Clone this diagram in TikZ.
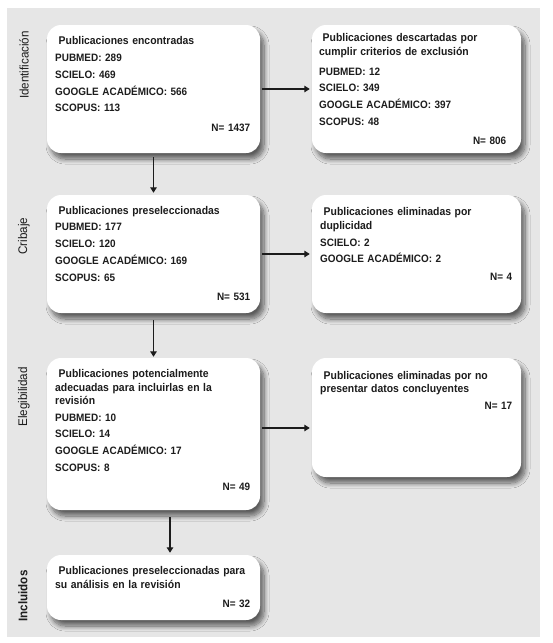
\documentclass[tikz,border=0pt]{standalone}
\usepackage{fontspec}
\newfontfamily\cf{Liberation Sans}[FakeStretch=0.93]
\usetikzlibrary{arrows.meta,shadows.blur}
\definecolor{bgc}{HTML}{E6E6E6}
\definecolor{txtc}{HTML}{1C1C1C}
\newcommand{\dfont}{\cf\bfseries\fontsize{10.7}{16.7}\selectfont}
\newcommand{\tfont}{\cf\bfseries\fontsize{11.2}{13.5}\selectfont}
\newcommand{\fl}{\rule{0pt}{11pt}\hspace*{3.5pt}}
\begin{document}
\begin{tikzpicture}[x=1pt,y=-1pt,
  box/.style={fill=white, rounded corners=14pt, inner sep=0pt,
    blur shadow={shadow xshift=4pt, shadow yshift=-6pt, shadow blur radius=5pt, shadow blur steps=10, shadow opacity=60}},
  txt/.style={anchor=north west, inner sep=0pt, text width=#1, align=left, font=\dfont, text=txtc,
    execute at begin node=\setlength{\parindent}{0pt}},
  lab/.style={rotate=90, inner sep=0pt, text=txtc, font=\cf\fontsize{12.5}{14}\selectfont},
  arr/.style={line width=1.3pt, draw=txtc, -{Triangle[length=5.5pt,width=6.5pt]}}
]
\useasboundingbox (0,0) rectangle (552,643);
\fill[bgc] (7,8) rectangle (540,637);

% boxes
\node[box, minimum width=213pt, minimum height=128pt] (b1) at (153.5,89) {};
\node[box, minimum width=209pt, minimum height=128pt] (b2) at (416.5,89) {};
\node[box, minimum width=213pt, minimum height=118pt] (b3) at (153.5,254) {};
\node[box, minimum width=209pt, minimum height=118pt] (b4) at (416.5,254) {};
\node[box, minimum width=213pt, minimum height=152pt] (b5) at (153.5,434) {};
\node[box, minimum width=209pt, minimum height=119pt] (b6) at (416.5,417.5) {};
\node[box, minimum width=213pt, minimum height=65pt] (b7) at (153.5,587.5) {};

% texts
\node[txt=195pt] (t1) at (55,33) {{\tfont\fl\mbox{Publicaciones encontradas}\par}\vspace{0.7pt}
PUBMED: 289\\
SCIELO: 469\\
GOOGLE ACADÉMICO: 566\\
SCOPUS: 113\\[3pt]
\hspace*{\fill}N= 1437};

\node[txt=187pt] (t2) at (319,30.7) {{\tfont\fl\mbox{Publicaciones descartadas por}\\
\mbox{cumplir criterios de exclusión}\par}\vspace{3pt}
PUBMED: 12\\
SCIELO: 349\\
GOOGLE ACADÉMICO: 397\\
SCOPUS: 48\\[2.7pt]
\hspace*{\fill}N= 806};

\node[txt=195pt] (t3) at (55,203) {{\tfont\fl\mbox{Publicaciones preseleccionadas}\par}
PUBMED: 177\\
SCIELO: 120\\
GOOGLE ACADÉMICO: 169\\
SCOPUS: 65\\[2.3pt]
\hspace*{\fill}N= 531};

\node[txt=192pt] (t4) at (320,204.3) {{\tfont\fl\mbox{Publicaciones eliminadas por}\\
\mbox{duplicidad}\par}\vspace{0.5pt}
SCIELO: 2\\
GOOGLE ACADÉMICO: 2\\[0.6pt]
\hspace*{\fill}N= 4};

\node[txt=195pt] (t5) at (55,366.3) {{\tfont\fl\mbox{Publicaciones potencialmente}\\
\mbox{adecuadas para incluirlas en la}\\
\mbox{revisión}\par}
PUBMED: 10\\
SCIELO: 14\\
GOOGLE ACADÉMICO: 17\\
SCOPUS: 8\\[2.6pt]
\hspace*{\fill}N= 49};

\node[txt=192pt] (t6) at (320,368) {{\tfont\fl\mbox{Publicaciones eliminadas por no}\\
\mbox{presentar datos concluyentes}\par}
\hspace*{\fill}N= 17};

\node[txt=195pt] (t7) at (55,563.3) {{\tfont\fl\mbox{Publicaciones preseleccionadas para}\\
\mbox{su análisis en la revisión}\par}\vspace{2.6pt}
\hspace*{\fill}N= 32};

% side labels
\node[lab] (l1) at (24,65) {Identificación};
\node[lab] (l2) at (24,236) {Cribaje};
\node[lab] (l3) at (24,397) {Elegibilidad};
\node[lab, font=\cf\bfseries\fontsize{12.5}{14}\selectfont] (l4) at (23,596) {Incluidos};

% connectors
\coordinate (x57) at (170,0);
\coordinate (y56) at (0,428);
\draw[arr, shorten <=4pt, shorten >=2pt] (b1.south) -- (b3.north);
\draw[arr, shorten <=7pt, shorten >=1pt] (b3.south) -- (b5.north);
\draw[arr, shorten <=7pt, shorten >=2pt] (b5.south -| x57) -- (b7.north -| x57);
\draw[arr, shorten <=2pt, shorten >=2pt] (b1.east) -- (b2.west);
\draw[arr, shorten <=2pt, shorten >=2pt] (b3.east) -- (b4.west);
\draw[arr, shorten <=2pt, shorten >=2pt] (b5.east |- y56) -- (b6.west |- y56);
\end{tikzpicture}
\end{document}
